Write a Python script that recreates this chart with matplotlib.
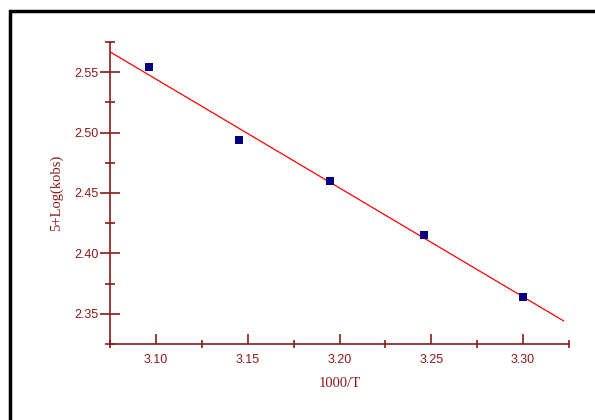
import numpy as np
import matplotlib
matplotlib.use("Agg")
from matplotlib import pyplot as plt
from matplotlib.patches import Rectangle
from matplotlib.ticker import MultipleLocator

# data
inv_t = [3.096, 3.145, 3.195, 3.246, 3.300]
log_k = [2.554, 2.494, 2.460, 2.415, 2.364]
fit_range = [3.074, 3.322]
x_ticks = [3.10, 3.15, 3.20, 3.25, 3.30]
y_ticks = [2.35, 2.40, 2.45, 2.50, 2.55]

axis_col = "#8b1a1a"

fig = plt.figure(figsize=(5.95, 4.2), dpi=100)
ax = fig.add_axes([0.1849, 0.181, 0.7714, 0.719])

# linear fit through the points
k, b = np.polyfit(inv_t, log_k, 1)
xf = np.array(fit_range)
ax.plot(xf, k * xf + b, color="red", lw=0.9, zorder=2)
ax.scatter(inv_t, log_k, marker="s", s=28, color="#000080", zorder=3, linewidths=0)

ax.set_xlim(3.075, 3.325)
ax.set_ylim(2.325, 2.575)
ax.set_xticks(x_ticks)
ax.set_yticks(y_ticks)
ax.set_xticklabels([f"{v:.2f}" for v in x_ticks])
ax.set_yticklabels([f"{v:.2f}" for v in y_ticks])
ax.xaxis.set_minor_locator(MultipleLocator(0.025))
ax.yaxis.set_minor_locator(MultipleLocator(0.025))

for s in ["top", "right"]:
    ax.spines[s].set_visible(False)
for s in ["left", "bottom"]:
    ax.spines[s].set_color(axis_col)
    ax.spines[s].set_linewidth(1.2)

ax.tick_params(axis="y", which="major", direction="inout", length=14, width=1.2,
               color=axis_col, labelcolor=axis_col, labelsize=9, pad=1,
               labelfontfamily="Liberation Sans")
ax.tick_params(axis="y", which="minor", direction="inout", length=7, width=1.2, color=axis_col)
ax.tick_params(axis="x", which="major", direction="in", length=7, width=1.2,
               color=axis_col, labelcolor=axis_col, labelsize=9, pad=7,
               labelfontfamily="Liberation Sans")
ax.tick_params(axis="x", which="minor", direction="inout", length=6, width=1.2, color=axis_col)

ax.set_xlabel("1000/T", family="Liberation Serif", fontsize=10.5, color=axis_col, labelpad=8)
ax.set_ylabel("5+Log(kobs)", family="Liberation Serif", fontsize=10.5, color=axis_col, labelpad=8)
ax.patch.set_alpha(0)

# black frame around the chart, cut off on the right and bottom
fig.patches.append(Rectangle((10 / 595, -0.05), 1.1, 1.05 - 11 / 420,
                             transform=fig.transFigure, fill=False,
                             edgecolor="black", lw=2.5))

fig.savefig("out.png", dpi=100)
